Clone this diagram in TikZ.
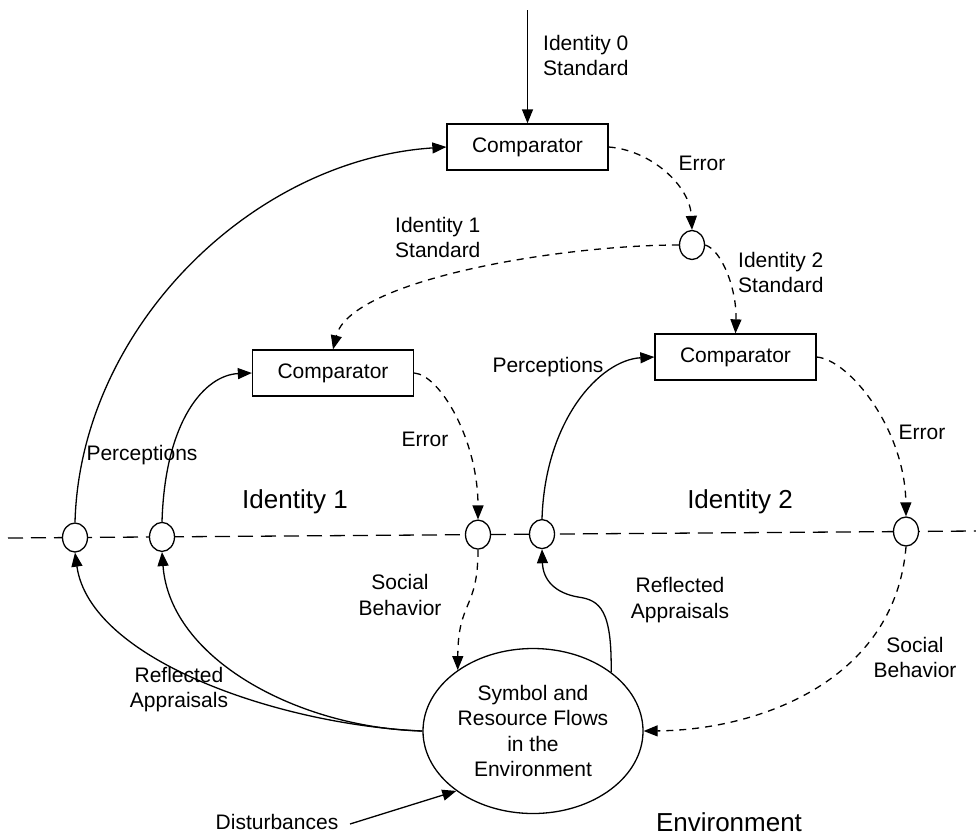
\documentclass[tikz,border=0pt]{standalone}
\usepackage{fontspec}
\setmainfont{Liberation Sans}
\usetikzlibrary{arrows.meta,shapes.geometric}
\begin{document}
\begin{tikzpicture}[x=1pt,y=-1pt,
  every node/.style={font=\fontsize{21}{25.5}\selectfont},
  compbox/.style={draw, line width=1.3pt, minimum width=161pt, minimum height=46pt, inner sep=0pt, fill=white},
  junc/.style={draw, ellipse, line width=1.3pt, minimum width=25pt, minimum height=29pt, inner sep=0pt, fill=white},
  flow/.style={line width=1.3pt, -{Triangle[length=14pt,width=11pt]}},
  sig/.style={flow, dash pattern=on 7pt off 6pt},
  lbl/.style={align=center, inner sep=0pt},
  big/.style={font=\fontsize{26}{31}\selectfont, inner sep=0pt},
  envlabel/.style={draw, ellipse, line width=1.3pt, minimum width=220pt, minimum height=165pt, inner sep=0pt, align=center, fill=white}
]
\useasboundingbox (0,0) rectangle (976,835);

% boundary line between identities and environment
\coordinate (lineL) at (8,538);
\coordinate (lineR) at (976,531);
\draw[line width=1.3pt, dash pattern=on 15pt off 8pt] (lineL) -- (lineR);

% comparators
\node[compbox] (comp0) at (527.5,147) {Comparator};
\node[compbox] (comp1) at (333,373) {Comparator};
\node[compbox] (comp2) at (735.5,357) {Comparator};

% junctions
\node[junc] (j0) at (692,245) {};
\node[junc] (c1) at (75,537.5) {};
\node[junc] (c2) at (162,536.9) {};
\node[junc] (c3) at (478,534.6) {};
\node[junc] (c4) at (542,534.1) {};
\node[junc] (c5) at (906,531.5) {};

% environment
\node[envlabel] (env) at (533,731) {Symbol and\\Resource Flows\\in the\\Environment};

% top input
\coordinate (topin) at (527.5,10);
\draw[flow] (topin) -- (comp0.north);
\node[lbl, align=left, anchor=west] (id0) at (543,55.5) {Identity 0\\Standard};

% errors / standards (dashed)
\draw[sig] (comp0.east) .. controls (650,150) and (690,185) .. (j0.north);
\node[lbl] (err0) at (702,163) {Error};
\draw[sig] (j0.west) .. controls (560,245) and (350,280) .. (comp1.north);
\node[lbl, align=left, anchor=west] (id1s) at (395,237.5) {Identity 1\\Standard};
\draw[sig] (j0.east) .. controls (722,250) and (737,290) .. (comp2.north);
\node[lbl, align=left, anchor=west] (id2s) at (738,272.5) {Identity 2\\Standard};

\draw[sig] (comp1.east) .. controls (440,375) and (478,440) .. (c3.north);
\node[lbl] (err1) at (425,439) {Error};
\draw[sig] (comp2.east) .. controls (850,360) and (905,430) .. (c5.north);
\node[lbl] (err2) at (922,432) {Error};

% perceptions
\draw[flow] (c1.north) .. controls (80,330) and (250,160) .. (comp0.west);
\draw[flow] (c2.north) .. controls (165,420) and (205,375) .. (comp1.west);
\draw[flow] (c4.north) .. controls (545,420) and (600,360) .. (comp2.west);
\node[lbl] (perc1) at (142,455) {Perceptions};
\node[lbl] (perc2) at (548,367) {Perceptions};

% identity labels
\node[big] (ident1) at (295,502) {Identity 1};
\node[big] (ident2) at (740,502) {Identity 2};

% social behavior
\draw[sig] (c3.south) .. controls (478,610) and (458,600) .. (env.141);
\node[lbl] (sb1) at (400,595) {Social\\Behavior};
\draw[sig] (c5.south) .. controls (895,680) and (760,730) .. (env.east);
\node[lbl] (sb2) at (915,657.5) {Social\\Behavior};

% reflected appraisals
\draw[flow] (env.west) .. controls (280,725) and (90,660) .. (c1.south);
\draw[flow] (env.west) .. controls (300,728) and (170,660) .. (c2.south);
\node[lbl] (ra1) at (179,689.5) {Reflected\\Appraisals};
\coordinate (rbend) at (578,597);
\draw[flow] (env.37) .. controls (612,610) and (600,600) .. (rbend) .. controls (555,593) and (543,580) .. (c4.south);
\node[lbl] (ra2) at (680,600) {Reflected\\Appraisals};

% disturbances
\node[lbl] (dist) at (277,822) {Disturbances};
\coordinate (dstart) at (350,824);
\draw[flow] (dstart) -- (env.218);

\node[big] (envtxt) at (729,822) {Environment};
\end{tikzpicture}
\end{document}
